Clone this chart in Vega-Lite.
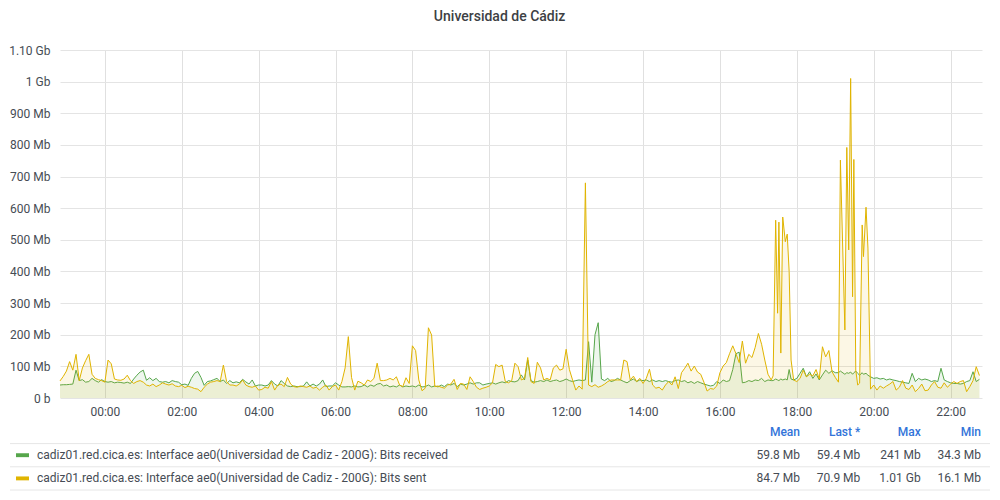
{
"$schema":"https://vega.github.io/schema/vega-lite/v6.json",
"width":922,"height":348,
"padding":{"left":8,"top":10,"right":5,"bottom":5},
"title":{"text":"Universidad de Cádiz","font":"Roboto","fontSize":14,"fontWeight":500,"color":"#3d3f44","anchor":"middle","frame":"bounds","offset":20},
"config":{"font":"Roboto","view":{"stroke":null},"axis":{"labelFont":"Roboto","labelFontSize":12,"labelColor":"#464c54","gridColor":"#e4e4e4","domain":false,"ticks":false,"title":null}},
"resolve":{"scale":{"x":"independent","y":"independent","color":"independent"},"axis":{"x":"independent","y":"independent"}},
"layer":[
{"data":{"values":[
{"t":"2023-03-14T22:50","r":41,"s":54},{"t":"2023-03-14T22:55","r":42,"s":68},{"t":"2023-03-14T23:00","r":42,"s":85},{"t":"2023-03-14T23:05","r":43,"s":115},{"t":"2023-03-14T23:10","r":44,"s":88},{"t":"2023-03-14T23:15","r":88,"s":138},{"t":"2023-03-14T23:20","r":55,"s":55},{"t":"2023-03-14T23:25","r":58,"s":95},{"t":"2023-03-14T23:30","r":50,"s":118},{"t":"2023-03-14T23:35","r":52,"s":138},{"t":"2023-03-14T23:40","r":62,"s":75},{"t":"2023-03-14T23:45","r":55,"s":62},{"t":"2023-03-14T23:50","r":50,"s":58},{"t":"2023-03-14T23:55","r":58,"s":55},
{"t":"2023-03-15T00:00","r":52,"s":50},{"t":"2023-03-15T00:05","r":50,"s":120},{"t":"2023-03-15T00:10","r":52,"s":108},{"t":"2023-03-15T00:15","r":48,"s":60},{"t":"2023-03-15T00:20","r":50,"s":57},{"t":"2023-03-15T00:25","r":49,"s":56},{"t":"2023-03-15T00:30","r":47,"s":60},{"t":"2023-03-15T00:35","r":50,"s":72},{"t":"2023-03-15T00:40","r":46,"s":55},{"t":"2023-03-15T00:45","r":60,"s":46},{"t":"2023-03-15T00:50","r":72,"s":52},{"t":"2023-03-15T00:55","r":82,"s":55},
{"t":"2023-03-15T01:00","r":88,"s":50},{"t":"2023-03-15T01:05","r":56,"s":41},{"t":"2023-03-15T01:10","r":64,"s":38},{"t":"2023-03-15T01:15","r":55,"s":44},{"t":"2023-03-15T01:20","r":62,"s":36},{"t":"2023-03-15T01:25","r":52,"s":41},{"t":"2023-03-15T01:30","r":50,"s":48},{"t":"2023-03-15T01:35","r":52,"s":44},{"t":"2023-03-15T01:40","r":48,"s":41},{"t":"2023-03-15T01:45","r":55,"s":45},{"t":"2023-03-15T01:50","r":52,"s":38},{"t":"2023-03-15T01:55","r":50,"s":36},
{"t":"2023-03-15T02:00","r":42,"s":40},{"t":"2023-03-15T02:05","r":44,"s":33},{"t":"2023-03-15T02:10","r":40,"s":37},{"t":"2023-03-15T02:15","r":62,"s":34},{"t":"2023-03-15T02:20","r":78,"s":30},{"t":"2023-03-15T02:25","r":84,"s":28},{"t":"2023-03-15T02:30","r":65,"s":20},{"t":"2023-03-15T02:35","r":40,"s":34},{"t":"2023-03-15T02:40","r":52,"s":44},{"t":"2023-03-15T02:45","r":54,"s":50},{"t":"2023-03-15T02:50","r":58,"s":52},{"t":"2023-03-15T02:55","r":62,"s":55},
{"t":"2023-03-15T03:00","r":52,"s":52},{"t":"2023-03-15T03:05","r":57,"s":104},{"t":"2023-03-15T03:10","r":46,"s":52},{"t":"2023-03-15T03:15","r":55,"s":41},{"t":"2023-03-15T03:20","r":48,"s":41},{"t":"2023-03-15T03:25","r":51,"s":38},{"t":"2023-03-15T03:30","r":48,"s":44},{"t":"2023-03-15T03:35","r":59,"s":57},{"t":"2023-03-15T03:40","r":51,"s":41},{"t":"2023-03-15T03:45","r":44,"s":36},{"t":"2023-03-15T03:50","r":57,"s":34},{"t":"2023-03-15T03:55","r":38,"s":38},
{"t":"2023-03-15T04:00","r":41,"s":25},{"t":"2023-03-15T04:05","r":41,"s":27},{"t":"2023-03-15T04:10","r":38,"s":34},{"t":"2023-03-15T04:15","r":41,"s":31},{"t":"2023-03-15T04:20","r":55,"s":52},{"t":"2023-03-15T04:25","r":44,"s":25},{"t":"2023-03-15T04:30","r":38,"s":41},{"t":"2023-03-15T04:35","r":55,"s":44},{"t":"2023-03-15T04:40","r":46,"s":36},{"t":"2023-03-15T04:45","r":38,"s":65},{"t":"2023-03-15T04:50","r":36,"s":44},{"t":"2023-03-15T04:55","r":38,"s":36},
{"t":"2023-03-15T05:00","r":36,"s":34},{"t":"2023-03-15T05:05","r":36,"s":38},{"t":"2023-03-15T05:10","r":38,"s":36},{"t":"2023-03-15T05:15","r":51,"s":34},{"t":"2023-03-15T05:20","r":38,"s":38},{"t":"2023-03-15T05:25","r":44,"s":31},{"t":"2023-03-15T05:30","r":38,"s":34},{"t":"2023-03-15T05:35","r":44,"s":25},{"t":"2023-03-15T05:40","r":57,"s":34},{"t":"2023-03-15T05:45","r":36,"s":41},{"t":"2023-03-15T05:50","r":38,"s":25},{"t":"2023-03-15T05:55","r":38,"s":36},
{"t":"2023-03-15T06:00","r":48,"s":41},{"t":"2023-03-15T06:05","r":41,"s":25},{"t":"2023-03-15T06:10","r":35,"s":52},{"t":"2023-03-15T06:15","r":35,"s":95},{"t":"2023-03-15T06:20","r":36,"s":194},{"t":"2023-03-15T06:25","r":35,"s":65},{"t":"2023-03-15T06:30","r":38,"s":25},{"t":"2023-03-15T06:35","r":35,"s":53},{"t":"2023-03-15T06:40","r":36,"s":48},{"t":"2023-03-15T06:45","r":41,"s":41},{"t":"2023-03-15T06:50","r":35,"s":57},{"t":"2023-03-15T06:55","r":41,"s":52},
{"t":"2023-03-15T07:00","r":37,"s":62},{"t":"2023-03-15T07:05","r":44,"s":110},{"t":"2023-03-15T07:10","r":46,"s":55},{"t":"2023-03-15T07:15","r":38,"s":55},{"t":"2023-03-15T07:20","r":41,"s":57},{"t":"2023-03-15T07:25","r":35,"s":62},{"t":"2023-03-15T07:30","r":38,"s":57},{"t":"2023-03-15T07:35","r":35,"s":67},{"t":"2023-03-15T07:40","r":41,"s":41},{"t":"2023-03-15T07:45","r":35,"s":36},{"t":"2023-03-15T07:50","r":38,"s":64},{"t":"2023-03-15T07:55","r":36,"s":46},
{"t":"2023-03-15T08:00","r":38,"s":165},{"t":"2023-03-15T08:05","r":35,"s":150},{"t":"2023-03-15T08:10","r":41,"s":57},{"t":"2023-03-15T08:15","r":35,"s":23},{"t":"2023-03-15T08:20","r":36,"s":31},{"t":"2023-03-15T08:25","r":41,"s":222},{"t":"2023-03-15T08:30","r":35,"s":199},{"t":"2023-03-15T08:35","r":38,"s":36},{"t":"2023-03-15T08:40","r":35,"s":38},{"t":"2023-03-15T08:45","r":41,"s":34},{"t":"2023-03-15T08:50","r":36,"s":31},{"t":"2023-03-15T08:55","r":44,"s":41},
{"t":"2023-03-15T09:00","r":41,"s":44},{"t":"2023-03-15T09:05","r":46,"s":59},{"t":"2023-03-15T09:10","r":36,"s":27},{"t":"2023-03-15T09:15","r":44,"s":46},{"t":"2023-03-15T09:20","r":41,"s":44},{"t":"2023-03-15T09:25","r":44,"s":27},{"t":"2023-03-15T09:30","r":48,"s":67},{"t":"2023-03-15T09:35","r":44,"s":52},{"t":"2023-03-15T09:40","r":48,"s":34},{"t":"2023-03-15T09:45","r":48,"s":27},{"t":"2023-03-15T09:50","r":41,"s":31},{"t":"2023-03-15T09:55","r":44,"s":34},
{"t":"2023-03-15T10:00","r":46,"s":38},{"t":"2023-03-15T10:05","r":48,"s":48},{"t":"2023-03-15T10:10","r":44,"s":106},{"t":"2023-03-15T10:15","r":48,"s":99},{"t":"2023-03-15T10:20","r":51,"s":104},{"t":"2023-03-15T10:25","r":48,"s":52},{"t":"2023-03-15T10:30","r":55,"s":48},{"t":"2023-03-15T10:35","r":52,"s":55},{"t":"2023-03-15T10:40","r":51,"s":110},{"t":"2023-03-15T10:45","r":55,"s":99},{"t":"2023-03-15T10:50","r":73,"s":57},{"t":"2023-03-15T10:55","r":57,"s":62},
{"t":"2023-03-15T11:00","r":120,"s":128},{"t":"2023-03-15T11:05","r":55,"s":52},{"t":"2023-03-15T11:10","r":50,"s":46},{"t":"2023-03-15T11:15","r":52,"s":113},{"t":"2023-03-15T11:20","r":55,"s":95},{"t":"2023-03-15T11:25","r":52,"s":57},{"t":"2023-03-15T11:30","r":57,"s":62},{"t":"2023-03-15T11:35","r":52,"s":57},{"t":"2023-03-15T11:40","r":55,"s":95},{"t":"2023-03-15T11:45","r":57,"s":104},{"t":"2023-03-15T11:50","r":52,"s":88},{"t":"2023-03-15T11:55","r":55,"s":92},
{"t":"2023-03-15T12:00","r":60,"s":154},{"t":"2023-03-15T12:05","r":55,"s":90},{"t":"2023-03-15T12:10","r":52,"s":57},{"t":"2023-03-15T12:15","r":55,"s":25},{"t":"2023-03-15T12:20","r":57,"s":38},{"t":"2023-03-15T12:25","r":55,"s":28},{"t":"2023-03-15T12:30","r":57,"s":680},{"t":"2023-03-15T12:35","r":178,"s":41},{"t":"2023-03-15T12:40","r":50,"s":36},{"t":"2023-03-15T12:45","r":200,"s":42},{"t":"2023-03-15T12:50","r":238,"s":34},{"t":"2023-03-15T12:55","r":60,"s":38},
{"t":"2023-03-15T13:00","r":55,"s":44},{"t":"2023-03-15T13:05","r":62,"s":52},{"t":"2023-03-15T13:10","r":52,"s":57},{"t":"2023-03-15T13:15","r":55,"s":57},{"t":"2023-03-15T13:20","r":62,"s":57},{"t":"2023-03-15T13:25","r":57,"s":57},{"t":"2023-03-15T13:30","r":52,"s":120},{"t":"2023-03-15T13:35","r":48,"s":115},{"t":"2023-03-15T13:40","r":55,"s":57},{"t":"2023-03-15T13:45","r":60,"s":69},{"t":"2023-03-15T13:50","r":52,"s":52},{"t":"2023-03-15T13:55","r":57,"s":62},
{"t":"2023-03-15T14:00","r":55,"s":46},{"t":"2023-03-15T14:05","r":57,"s":62},{"t":"2023-03-15T14:10","r":52,"s":91},{"t":"2023-03-15T14:15","r":57,"s":41},{"t":"2023-03-15T14:20","r":52,"s":31},{"t":"2023-03-15T14:25","r":55,"s":34},{"t":"2023-03-15T14:30","r":52,"s":25},{"t":"2023-03-15T14:35","r":55,"s":41},{"t":"2023-03-15T14:40","r":52,"s":52},{"t":"2023-03-15T14:45","r":50,"s":41},{"t":"2023-03-15T14:50","r":55,"s":67},{"t":"2023-03-15T14:55","r":57,"s":30},
{"t":"2023-03-15T15:00","r":52,"s":80},{"t":"2023-03-15T15:05","r":55,"s":94},{"t":"2023-03-15T15:10","r":48,"s":110},{"t":"2023-03-15T15:15","r":52,"s":85},{"t":"2023-03-15T15:20","r":46,"s":101},{"t":"2023-03-15T15:25","r":52,"s":82},{"t":"2023-03-15T15:30","r":48,"s":75},{"t":"2023-03-15T15:35","r":44,"s":50},{"t":"2023-03-15T15:40","r":41,"s":22},{"t":"2023-03-15T15:45","r":38,"s":30},{"t":"2023-03-15T15:50","r":40,"s":28},{"t":"2023-03-15T15:55","r":52,"s":38},
{"t":"2023-03-15T16:00","r":46,"s":80},{"t":"2023-03-15T16:05","r":57,"s":101},{"t":"2023-03-15T16:10","r":52,"s":112},{"t":"2023-03-15T16:15","r":55,"s":140},{"t":"2023-03-15T16:20","r":90,"s":165},{"t":"2023-03-15T16:25","r":140,"s":140},{"t":"2023-03-15T16:30","r":145,"s":112},{"t":"2023-03-15T16:35","r":48,"s":180},{"t":"2023-03-15T16:40","r":50,"s":110},{"t":"2023-03-15T16:45","r":55,"s":138},{"t":"2023-03-15T16:50","r":52,"s":128},{"t":"2023-03-15T16:55","r":57,"s":160},
{"t":"2023-03-15T17:00","r":55,"s":204},{"t":"2023-03-15T17:05","r":62,"s":170},{"t":"2023-03-15T17:10","r":52,"s":120},{"t":"2023-03-15T17:15","r":57,"s":75},{"t":"2023-03-15T17:20","r":55,"s":57},{"t":"2023-03-15T17:23","r":55,"s":70},{"t":"2023-03-15T17:27","r":60,"s":562},{"t":"2023-03-15T17:30","r":57,"s":268},{"t":"2023-03-15T17:32","r":55,"s":556},{"t":"2023-03-15T17:35","r":60,"s":142},{"t":"2023-03-15T17:38","r":57,"s":572},{"t":"2023-03-15T17:42","r":60,"s":494},{"t":"2023-03-15T17:45","r":57,"s":518},{"t":"2023-03-15T17:48","r":90,"s":400},{"t":"2023-03-15T17:51","r":60,"s":120},{"t":"2023-03-15T17:55","r":57,"s":57},
{"t":"2023-03-15T18:00","r":62,"s":52},{"t":"2023-03-15T18:05","r":78,"s":62},{"t":"2023-03-15T18:10","r":94,"s":88},{"t":"2023-03-15T18:15","r":67,"s":67},{"t":"2023-03-15T18:20","r":83,"s":75},{"t":"2023-03-15T18:25","r":62,"s":70},{"t":"2023-03-15T18:30","r":76,"s":90},{"t":"2023-03-15T18:35","r":57,"s":60},{"t":"2023-03-15T18:40","r":73,"s":162},{"t":"2023-03-15T18:45","r":88,"s":130},{"t":"2023-03-15T18:50","r":78,"s":150},{"t":"2023-03-15T18:55","r":86,"s":83},
{"t":"2023-03-15T19:00","r":80,"s":65},{"t":"2023-03-15T19:05","r":80,"s":50},{"t":"2023-03-15T19:08","r":85,"s":752},{"t":"2023-03-15T19:15","r":75,"s":215},{"t":"2023-03-15T19:18","r":80,"s":792},{"t":"2023-03-15T19:21","r":78,"s":468},{"t":"2023-03-15T19:24","r":82,"s":1010},{"t":"2023-03-15T19:27","r":75,"s":320},{"t":"2023-03-15T19:29","r":80,"s":754},{"t":"2023-03-15T19:32","r":85,"s":88},{"t":"2023-03-15T19:35","r":78,"s":41},{"t":"2023-03-15T19:38","r":72,"s":47},{"t":"2023-03-15T19:42","r":80,"s":547},{"t":"2023-03-15T19:44","r":75,"s":447},{"t":"2023-03-15T19:48","r":78,"s":603},{"t":"2023-03-15T19:51","r":72,"s":474},{"t":"2023-03-15T19:55","r":67,"s":28},
{"t":"2023-03-15T20:00","r":62,"s":41},{"t":"2023-03-15T20:05","r":64,"s":25},{"t":"2023-03-15T20:10","r":60,"s":38},{"t":"2023-03-15T20:15","r":62,"s":31},{"t":"2023-03-15T20:20","r":57,"s":38},{"t":"2023-03-15T20:25","r":60,"s":44},{"t":"2023-03-15T20:30","r":57,"s":52},{"t":"2023-03-15T20:35","r":55,"s":25},{"t":"2023-03-15T20:40","r":52,"s":34},{"t":"2023-03-15T20:45","r":50,"s":55},{"t":"2023-03-15T20:50","r":48,"s":31},{"t":"2023-03-15T20:55","r":46,"s":27},
{"t":"2023-03-15T21:00","r":78,"s":41},{"t":"2023-03-15T21:05","r":52,"s":20},{"t":"2023-03-15T21:10","r":62,"s":30},{"t":"2023-03-15T21:15","r":57,"s":44},{"t":"2023-03-15T21:20","r":60,"s":23},{"t":"2023-03-15T21:25","r":57,"s":25},{"t":"2023-03-15T21:30","r":52,"s":41},{"t":"2023-03-15T21:35","r":55,"s":52},{"t":"2023-03-15T21:40","r":52,"s":34},{"t":"2023-03-15T21:45","r":94,"s":31},{"t":"2023-03-15T21:50","r":57,"s":48},{"t":"2023-03-15T21:55","r":52,"s":34},
{"t":"2023-03-15T22:00","r":48,"s":44},{"t":"2023-03-15T22:05","r":46,"s":52},{"t":"2023-03-15T22:10","r":46,"s":46},{"t":"2023-03-15T22:15","r":44,"s":52},{"t":"2023-03-15T22:20","r":46,"s":55},{"t":"2023-03-15T22:25","r":52,"s":20},{"t":"2023-03-15T22:30","r":55,"s":36},{"t":"2023-03-15T22:35","r":83,"s":55},{"t":"2023-03-15T22:40","r":52,"s":99},{"t":"2023-03-15T22:45","r":59,"s":71}
]},
"encoding":{"x":{"field":"t","type":"temporal","scale":{"domain":[{"year":2023,"month":3,"date":14,"hours":22,"minutes":50},{"year":2023,"month":3,"date":15,"hours":22,"minutes":49}]},
"axis":{"format":"%H:%M","labelPadding":8,"gridColor":"#e0e0e0","labelFlush":false,"values":[{"year":2023,"month":3,"date":15,"hours":0},{"year":2023,"month":3,"date":15,"hours":2},{"year":2023,"month":3,"date":15,"hours":4},{"year":2023,"month":3,"date":15,"hours":6},{"year":2023,"month":3,"date":15,"hours":8},{"year":2023,"month":3,"date":15,"hours":10},{"year":2023,"month":3,"date":15,"hours":12},{"year":2023,"month":3,"date":15,"hours":14},{"year":2023,"month":3,"date":15,"hours":16},{"year":2023,"month":3,"date":15,"hours":18},{"year":2023,"month":3,"date":15,"hours":20},{"year":2023,"month":3,"date":15,"hours":22}]}}},
"layer":[
{"mark":{"type":"area","fill":"#56A64B","fillOpacity":0.1},"encoding":{"y":{"field":"r","type":"quantitative","scale":{"domain":[0,1100],"nice":false},"axis":{"values":[0,100,200,300,400,500,600,700,800,900,1000,1100],"labelOverlap":false,"labelPadding":10,"labelExpr":"datum.value == 0 ? '0 b' : datum.value < 1000 ? datum.value + ' Mb' : datum.value == 1000 ? '1 Gb' : format(datum.value / 1000, '.2f') + ' Gb'"}}}},
{"mark":{"type":"line","stroke":"#56A64B","strokeWidth":1},"encoding":{"y":{"field":"r","type":"quantitative","axis":{"values":[0,100,200,300,400,500,600,700,800,900,1000,1100],"labelOverlap":false,"labelPadding":10,"labelExpr":"datum.value == 0 ? '0 b' : datum.value < 1000 ? datum.value + ' Mb' : datum.value == 1000 ? '1 Gb' : format(datum.value / 1000, '.2f') + ' Gb'"}}}},
{"mark":{"type":"area","fill":"#E0B400","fillOpacity":0.1},"encoding":{"y":{"field":"s","type":"quantitative","axis":{"values":[0,100,200,300,400,500,600,700,800,900,1000,1100],"labelOverlap":false,"labelPadding":10,"labelExpr":"datum.value == 0 ? '0 b' : datum.value < 1000 ? datum.value + ' Mb' : datum.value == 1000 ? '1 Gb' : format(datum.value / 1000, '.2f') + ' Gb'"}}}},
{"mark":{"type":"line","stroke":"#E0B400","strokeWidth":1},"encoding":{"y":{"field":"s","type":"quantitative","axis":{"values":[0,100,200,300,400,500,600,700,800,900,1000,1100],"labelOverlap":false,"labelPadding":10,"labelExpr":"datum.value == 0 ? '0 b' : datum.value < 1000 ? datum.value + ' Mb' : datum.value == 1000 ? '1 Gb' : format(datum.value / 1000, '.2f') + ' Gb'"}}}}
]},
{"data":{"values":[{"key":"sep0"},{"key":"sep1"},{"key":"sep2"}]},
"mark":{"type":"rule","stroke":"#e6e6e6","strokeWidth":1},
"encoding":{"x":{"datum":"a","type":"nominal","scale":{"type":"point","domain":["a","b"],"range":[-50,930],"padding":0},"axis":null},"x2":{"datum":"b"},
"y":{"field":"key","type":"nominal","scale":{"type":"point","domain":["header","sep0","recv","sep1","sent","sep2"],"range":[382,440],"padding":0},"axis":null}}},
{"data":{"values":[{"stat":"mean","label":"Mean"},{"stat":"last","label":"Last *"},{"stat":"max","label":"Max"},{"stat":"min","label":"Min"}]},
"mark":{"type":"text","align":"right","baseline":"middle","font":"Roboto","fontSize":12,"fontWeight":500,"color":"#3274D9"},
"encoding":{"x":{"field":"stat","type":"nominal","scale":{"type":"point","domain":["mean","last","max","min"],"range":[740,921],"padding":0},"axis":null},
"y":{"datum":"header","type":"nominal","scale":{"type":"point","domain":["header","sep0","recv","sep1","sent","sep2"],"range":[382,440],"padding":0},"axis":null},
"text":{"field":"label"}}},
{"data":{"values":[
{"key":"recv","name":"cadiz01.red.cica.es: Interface ae0(Universidad de Cadiz - 200G): Bits received","mean":"59.8 Mb","last":"59.4 Mb","max":"241 Mb","min":"34.3 Mb"},
{"key":"sent","name":"cadiz01.red.cica.es: Interface ae0(Universidad de Cadiz - 200G): Bits sent","mean":"84.7 Mb","last":"70.9 Mb","max":"1.01 Gb","min":"16.1 Mb"}]},
"transform":[{"fold":["mean","last","max","min"],"as":["stat","val"]}],
"mark":{"type":"text","align":"right","baseline":"middle","font":"Roboto","fontSize":12,"color":"#464c54"},
"encoding":{"x":{"field":"stat","type":"nominal","scale":{"type":"point","domain":["mean","last","max","min"],"range":[740,921],"padding":0},"axis":null},
"y":{"field":"key","type":"nominal","scale":{"type":"point","domain":["header","sep0","recv","sep1","sent","sep2"],"range":[382,440],"padding":0},"axis":null},
"text":{"field":"val"}}},
{"data":{"values":[
{"key":"recv","name":"cadiz01.red.cica.es: Interface ae0(Universidad de Cadiz - 200G): Bits received"},
{"key":"sent","name":"cadiz01.red.cica.es: Interface ae0(Universidad de Cadiz - 200G): Bits sent"}]},
"layer":[
{"mark":{"type":"text","align":"left","baseline":"middle","font":"Roboto","fontSize":12,"color":"#464c54"},
"encoding":{"x":{"datum":"name","type":"nominal","scale":{"type":"point","domain":["swatch","name"],"range":[-37.5,-23],"padding":0},"axis":null},
"y":{"field":"key","type":"nominal","scale":{"type":"point","domain":["header","sep0","recv","sep1","sent","sep2"],"range":[382,440],"padding":0},"axis":null},
"text":{"field":"name"}}},
{"mark":{"type":"point","filled":true,"opacity":1,"size":169,"shape":"M-1,-0.3L1,-0.3L1,0.3L-1,0.3Z"},
"encoding":{"x":{"datum":"swatch","type":"nominal"},
"y":{"field":"key","type":"nominal"},
"color":{"field":"key","type":"nominal","scale":{"domain":["recv","sent"],"range":["#56A64B","#E0B400"]},"legend":null}}}
]}
]
}
